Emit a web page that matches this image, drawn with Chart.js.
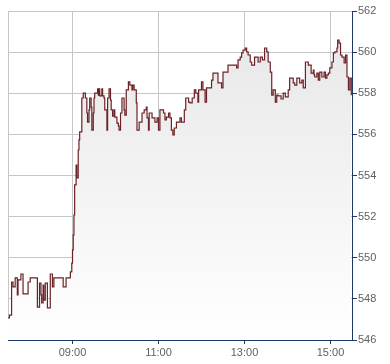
<!DOCTYPE html>
<html>
<head>
<meta charset="utf-8">
<title>Intraday price</title>
<script src="https://cdn.jsdelivr.net/npm/chart.js@4.4.1/dist/chart.umd.min.js"></script>
<style>
  html, body { margin: 0; padding: 0; background: #ffffff; }
</style>
</head>
<body>
<canvas id="priceChart" width="390" height="364"></canvas>
<script>
// trade times (HH:MM) and last price at each change
const times = [
  "07:30", "07:32", "07:35", "07:37", "07:40", "07:43", "07:44", "07:48", "07:51", "07:58",
  "08:01", "08:11", "08:14", "08:16", "08:17", "08:19", "08:20", "08:22", "08:25", "08:29",
  "08:32", "08:34", "08:47", "08:51", "08:57", "08:59", "09:00", "09:01", "09:02", "09:03",
  "09:05", "09:06", "09:08", "09:09", "09:10", "09:13", "09:15", "09:18", "09:20", "09:21",
  "09:23", "09:24", "09:26", "09:27", "09:29", "09:30", "09:31", "09:35", "09:36", "09:37",
  "09:38", "09:41", "09:42", "09:44", "09:45", "09:48", "09:49", "09:51", "09:53", "09:54",
  "09:56", "09:58", "09:59", "10:02", "10:04", "10:05", "10:07", "10:09", "10:12", "10:13",
  "10:15", "10:18", "10:20", "10:23", "10:24", "10:26", "10:29", "10:30", "10:33", "10:37",
  "10:40", "10:43", "10:44", "10:46", "10:47", "10:51", "10:55", "10:58", "11:00", "11:02",
  "11:07", "11:09", "11:11", "11:14", "11:16", "11:18", "11:20", "11:22", "11:25", "11:30",
  "11:32", "11:36", "11:38", "11:42", "11:44", "11:47", "11:50", "11:52", "11:55", "11:56",
  "12:00", "12:02", "12:05", "12:07", "12:14", "12:16", "12:23", "12:28", "12:30", "12:37",
  "12:49", "12:51", "12:54", "12:56", "12:58", "13:01", "13:03", "13:05", "13:08", "13:10",
  "13:14", "13:19", "13:22", "13:25", "13:28", "13:31", "13:33", "13:36", "13:38", "13:40",
  "13:43", "13:45", "13:47", "13:51", "13:54", "13:57", "14:01", "14:03", "14:08", "14:10",
  "14:13", "14:17", "14:20", "14:22", "14:25", "14:29", "14:33", "14:36", "14:37", "14:38",
  "14:41", "14:43", "14:45", "14:48", "14:51", "14:53", "14:55", "14:57", "14:59", "15:02",
  "15:04", "15:06", "15:09", "15:10", "15:12", "15:14", "15:16", "15:19", "15:21", "15:23",
  "15:25", "15:27", "15:29"
];
const prices = [
  547.07, 547.21, 548.82, 548.58, 549.02, 548.19, 548.92, 549.21, 548.24, 548.82,
  549.02, 547.60, 548.77, 548.19, 547.80, 548.67, 547.94, 548.77, 547.56, 549.21,
  548.58, 549.02, 548.58, 549.02, 549.31, 549.74, 550.38, 551.11, 552.08, 553.54,
  554.51, 553.88, 555.24, 555.73, 556.12, 557.77, 558.01, 557.77, 557.04, 556.60,
  557.19, 557.77, 557.33, 556.21, 557.04, 557.77, 558.01, 558.21, 557.91, 558.21,
  557.87, 558.21, 557.87, 557.77, 557.19, 556.21, 557.77, 558.21, 557.67, 557.19,
  556.89, 557.19, 556.84, 556.55, 556.41, 556.21, 557.04, 557.77, 557.19, 556.94,
  558.16, 558.55, 558.40, 558.16, 558.40, 558.16, 557.53, 556.21, 556.60, 557.04,
  557.19, 557.33, 556.80, 556.21, 557.04, 556.80, 556.60, 556.80, 556.21, 557.19,
  557.04, 556.70, 556.84, 557.04, 556.80, 556.21, 555.97, 556.31, 556.60, 556.80,
  556.60, 557.19, 557.77, 557.57, 557.53, 557.77, 558.16, 558.01, 557.57, 558.16,
  558.55, 558.16, 557.57, 558.26, 558.64, 558.98, 558.50, 558.26, 559.03, 559.37,
  559.23, 559.62, 559.76, 559.96, 560.10, 560.20, 560.01, 559.86, 559.52, 559.37,
  559.76, 559.52, 559.76, 559.62, 560.20, 560.01, 559.52, 559.03, 557.91, 558.16,
  557.57, 557.91, 557.87, 557.72, 558.01, 557.82, 558.16, 558.74, 558.50, 558.40,
  558.74, 558.50, 558.64, 558.26, 559.52, 559.37, 558.98, 559.13, 558.89, 558.79,
  558.98, 558.64, 559.03, 558.79, 559.03, 558.74, 558.89, 558.98, 559.23, 559.52,
  559.96, 560.01, 560.20, 560.59, 560.44, 559.86, 559.76, 559.47, 559.86, 558.79,
  558.16, 558.74, 557.90
];

// axis labels
const xTickLabels = ["09:00", "11:00", "13:00", "15:00"];
const sessionStart = "07:30";
const sessionEnd = "15:30";
const yMin = 546;
const yMax = 562;
const yStep = 2;

const axisColor = "#1d3766";
const gridColor = "#c6c6c6";
const labelColor = "#606060";

function toMinutes(hhmm) {
  const parts = hhmm.split(":");
  return parseInt(parts[0]) * 60 + parseInt(parts[1]);
}

function toLabel(minutes) {
  const h = Math.floor(minutes / 60);
  const m = minutes % 60;
  return String(h).padStart(2, "0") + ":" + String(m).padStart(2, "0");
}

const startMin = toMinutes(sessionStart);
const points = times.map((t, i) => ({ x: toMinutes(t), y: prices[i] }));

document.addEventListener("DOMContentLoaded", function () {
  const config = {
    type: "line",
    data: {
      datasets: [
        {
          data: points,
          stepped: true,
          borderColor: "#6b2227",
          borderWidth: 1.2,
          pointRadius: 0,
          fill: "start",
          // light grey fading to white under the price line
          backgroundColor: function (context) {
            const chart = context.chart;
            if (!chart.chartArea) return "#eeeeee";
            const g = chart.ctx.createLinearGradient(0, chart.chartArea.top, 0, chart.chartArea.bottom);
            g.addColorStop(0, "#e6e6e6");
            g.addColorStop(1, "#ffffff");
            return g;
          },
        },
      ],
    },
    options: {
      responsive: false,
      animation: false,
      layout: {
        padding: { top: 11, left: 8, right: 0, bottom: 0 },
      },
      plugins: {
        legend: { display: false },
        tooltip: { enabled: false },
      },
      scales: {
        x: {
          type: "linear",
          min: startMin,
          max: toMinutes(sessionEnd),
          afterBuildTicks: function (scale) {
            scale.ticks = [sessionStart].concat(xTickLabels).map((t) => ({ value: toMinutes(t) }));
          },
          afterFit: function (scale) {
            scale.height = 24;
          },
          grid: {
            color: gridColor,
            lineWidth: 1,
            tickLength: 4,
            tickColor: (ctx) => (ctx.tick && ctx.tick.value === startMin ? "rgba(0,0,0,0)" : axisColor),
          },
          border: { display: true, color: axisColor, width: 1 },
          ticks: {
            autoSkip: false,
            maxRotation: 0,
            padding: 2,
            color: labelColor,
            font: { family: "Arial, 'Liberation Sans', sans-serif", size: 11 },
            callback: (value) => (value === startMin ? "" : toLabel(value)),
          },
        },
        y: {
          position: "right",
          min: yMin,
          max: yMax,
          afterFit: function (scale) {
            scale.width = 38;
          },
          grid: {
            color: gridColor,
            lineWidth: 1,
            tickLength: 5,
            tickColor: axisColor,
          },
          border: { display: true, color: axisColor, width: 1 },
          ticks: {
            stepSize: yStep,
            padding: 1,
            color: labelColor,
            font: { family: "Arial, 'Liberation Sans', sans-serif", size: 11 },
          },
        },
      },
    },
  };

  new Chart(document.getElementById("priceChart"), config);
});
</script>
</body>
</html>
